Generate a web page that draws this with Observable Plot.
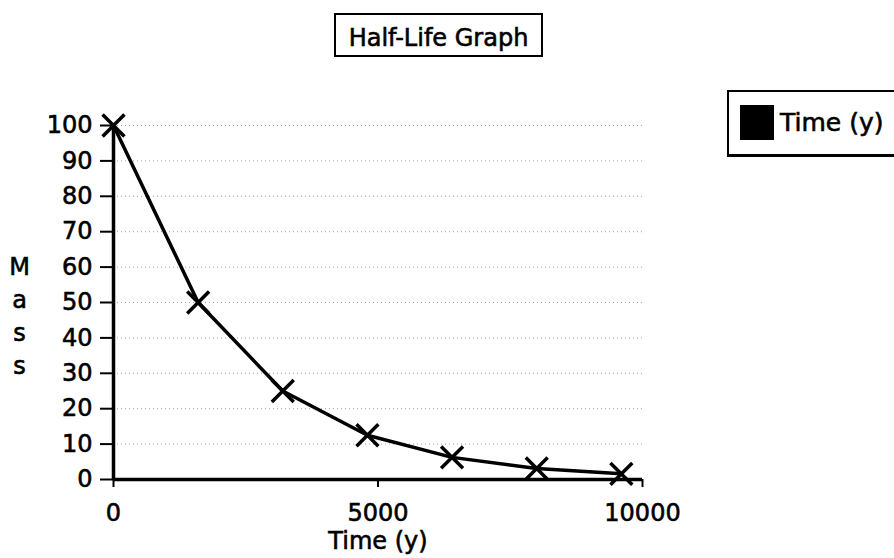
<!DOCTYPE html>
<html>
<head>
<meta charset="utf-8">
<script src="https://cdn.jsdelivr.net/npm/d3@7"></script>
<script src="https://cdn.jsdelivr.net/npm/@observablehq/plot@0.6"></script>
<style>
  body { margin: 0; background: #fff; }
  #wrap { position: relative; width: 894px; height: 558px; overflow: hidden; font-family: "DejaVu Sans", sans-serif; color: #000; background: #fff; }
  #chart { position: absolute; left: 0; top: 0; }
  #chart svg text { stroke: #000; stroke-width: 0.6px; }
  #title { position: absolute; left: 334px; top: 13px; width: 205px; height: 33px; padding-top: 7px; border: 2px solid #000; font-size: 24px; line-height: 33px; text-align: center; white-space: nowrap; background: #fff; -webkit-text-stroke: 0.6px #000; }
  #legend { position: absolute; left: 727px; top: 90px; width: 200px; height: 62px; border: 2px solid #000; border-bottom-width: 3px; background: #fff; }
  #swatch { position: absolute; left: 740px; top: 105px; width: 34px; height: 35px; background: #000; }
  #legtext { position: absolute; left: 780px; top: 108px; font-size: 25px; line-height: 30px; white-space: nowrap; -webkit-text-stroke: 0.6px #000; }
</style>
</head>
<body>
<div id="wrap">
  <div id="chart"></div>
  <div id="title"></div>
  <div id="legend"></div>
  <div id="swatch"></div>
  <div id="legtext"></div>
</div>
<script>
// Data
const times = [0, 1600, 3200, 4800, 6400, 8000, 9600];
const masses = [100, 50, 25, 12.5, 6.25, 3.1, 1.6];
const yTicks = [0, 10, 20, 30, 40, 50, 60, 70, 80, 90, 100];
const yGrid = [10, 20, 30, 40, 50, 60, 70, 80, 90, 100];
const xTicks = [0, 5000, 10000];
const titleText = "Half-Life Graph";
const legendLabel = "Time (y)";
const xLabel = "Time (y)";
const yLabel = "Mass";

const data = times.map((t, i) => ({t, m: masses[i]}));

document.getElementById("title").textContent = titleText;
document.getElementById("legtext").textContent = legendLabel;

const chart = Plot.plot({
  width: 894,
  height: 558,
  marginLeft: 113,
  marginRight: 252,
  marginTop: 125,
  marginBottom: 79,
  style: {fontFamily: "DejaVu Sans, sans-serif", fontSize: "24px", background: "#fff", color: "#000"},
  x: {domain: [0, 10000]},
  y: {domain: [0, 100]},
  marks: [
    Plot.gridY(yGrid, {stroke: "#777", strokeOpacity: 0.7, strokeWidth: 1, strokeDasharray: "1,3"}),
    Plot.axisY(yTicks, {tickSize: 13, tickPadding: 8, fontSize: 24, strokeWidth: 2, label: null, tickFormat: d => String(d)}),
    Plot.axisX(xTicks, {tickSize: 8, tickPadding: 16, fontSize: 24, strokeWidth: 2, label: null, tickFormat: d => String(d)}),
    Plot.ruleX([0], {stroke: "#000", strokeWidth: 3.5}),
    Plot.ruleY([0], {stroke: "#000", strokeWidth: 3.5}),
    Plot.line(data, {x: "t", y: "m", stroke: "#000", strokeWidth: 3.5}),
    Plot.dot(data, {x: "t", y: "m", symbol: "times", r: 10, stroke: "#000", strokeWidth: 3.5}),
    Plot.text([xLabel], {frameAnchor: "bottom", text: d => d, dy: 62, lineAnchor: "middle", fontSize: 24, fill: "#000"}),
    Plot.text([yLabel.split("").join("\n")], {frameAnchor: "top-left", text: d => d, dx: -94, dy: 126, textAnchor: "middle", lineAnchor: "top", lineHeight: 1.375, fontSize: 24, fill: "#000"})
  ]
});
document.getElementById("chart").appendChild(chart);
</script>
</body>
</html>
